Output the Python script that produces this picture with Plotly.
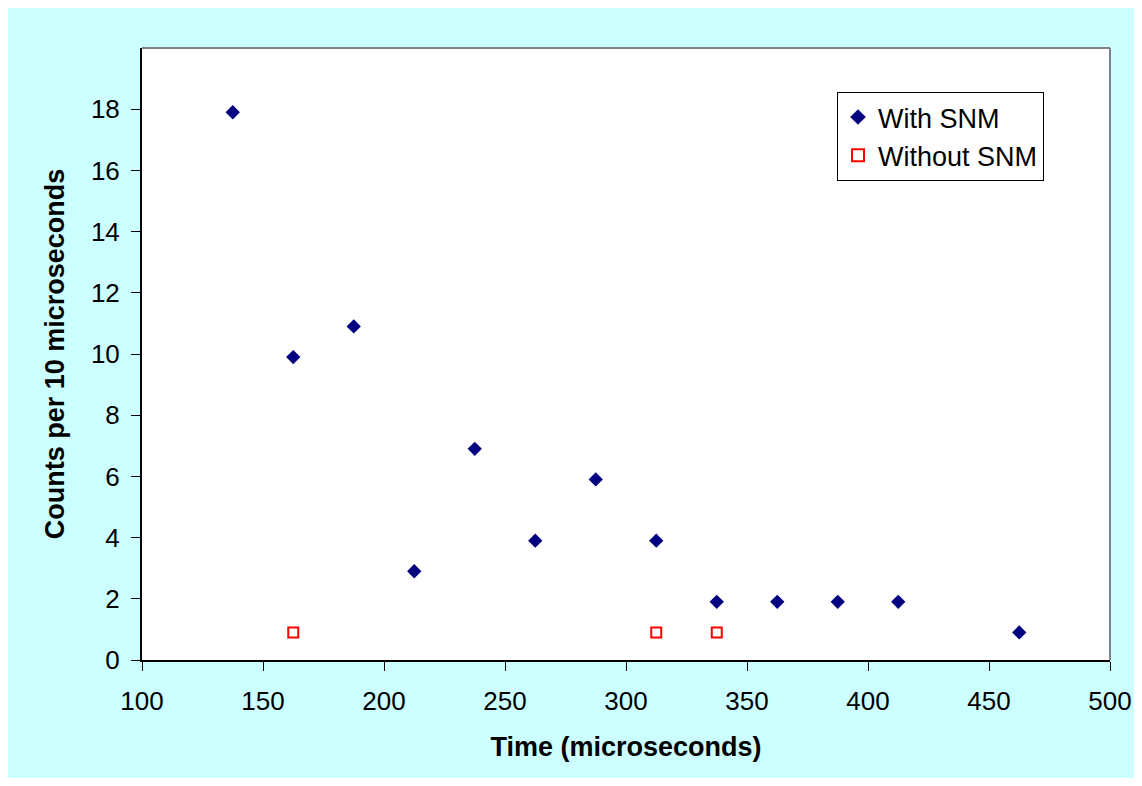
import plotly.graph_objects as go

# counts per 10 microseconds
time_with = [137.5, 162.5, 187.5, 212.5, 237.5, 262.5, 287.5, 312.5, 337.5, 362.5, 387.5, 412.5, 462.5]
counts_with = [17.9, 9.9, 10.9, 2.9, 6.9, 3.9, 5.9, 3.9, 1.9, 1.9, 1.9, 1.9, 0.9]

time_without = [162.5, 312.5, 337.5]
counts_without = [0.9, 0.9, 0.9]

x_ticks = [100, 150, 200, 250, 300, 350, 400, 450, 500]
y_ticks = [0, 2, 4, 6, 8, 10, 12, 14, 16, 18]

FONT = "Liberation Sans, Arial, sans-serif"

fig = go.Figure()
fig.add_trace(go.Scatter(
    x=time_with, y=counts_with, mode="markers", name="With SNM",
    marker=dict(symbol="diamond", size=11, color="#000080"),
))
fig.add_trace(go.Scatter(
    x=time_without, y=counts_without, mode="markers", name="Without SNM",
    marker=dict(symbol="square-open", size=10, color="#FF0000", line=dict(width=2, color="#FF0000")),
))

# page body has an 8px margin; plot area sits at x 142..1110, y 48..660 on the page
FW, FH = 1126, 770
L, T = 134, 40
R = 24          # leaves room for the "500" label
B = FH - 652
W = FW - L - R
H = FH - T - B

shapes = [
    # gray top / right frame of the plot area
    dict(type="line", xref="paper", yref="paper", x0=0, x1=1, y0=1, y1=1,
         line=dict(color="#808080", width=2)),
    dict(type="line", xref="paper", yref="paper", x0=1, x1=1, y0=0, y1=1,
         line=dict(color="#808080", width=2)),
]

fig.update_layout(
    width=FW, height=FH,
    margin=dict(l=L, r=R, t=T, b=B),
    paper_bgcolor="#CCFFFF",
    plot_bgcolor="white",
    font=dict(family=FONT, color="black", size=24),
    showlegend=True,
    legend=dict(
        x=(837 - 142) / W, y=1 - (92 - 48) / H, xanchor="left", yanchor="top",
        bgcolor="white", bordercolor="black", borderwidth=1,
        font=dict(size=27), itemsizing="constant", tracegroupgap=0,
    ),
    shapes=shapes,
)
fig.update_xaxes(
    range=[100, 500], tickvals=x_ticks, ticktext=[str(v) for v in x_ticks],
    showgrid=False, zeroline=False, automargin=False,
    showline=True, linecolor="black", linewidth=2,
    ticks="outside", ticklen=9, tickcolor="black", tickwidth=1,
    tickfont=dict(size=26), ticklabelstandoff=8, ticklabeloverflow="allow",
    title=dict(text="<b>Time (microseconds)</b>", font=dict(size=27), standoff=22),
)
fig.update_yaxes(
    range=[0, 20], tickvals=y_ticks, ticktext=[str(v) for v in y_ticks],
    showgrid=False, zeroline=False, automargin=False,
    showline=True, linecolor="black", linewidth=2,
    ticks="outside", ticklen=9, tickcolor="black", tickwidth=1,
    tickfont=dict(size=26), ticklabelstandoff=6,
    title=dict(text="<b>Counts per 10 microseconds</b>", font=dict(size=27), standoff=18),
)

fig.write_html("out.html", config={"displayModeBar": False})
